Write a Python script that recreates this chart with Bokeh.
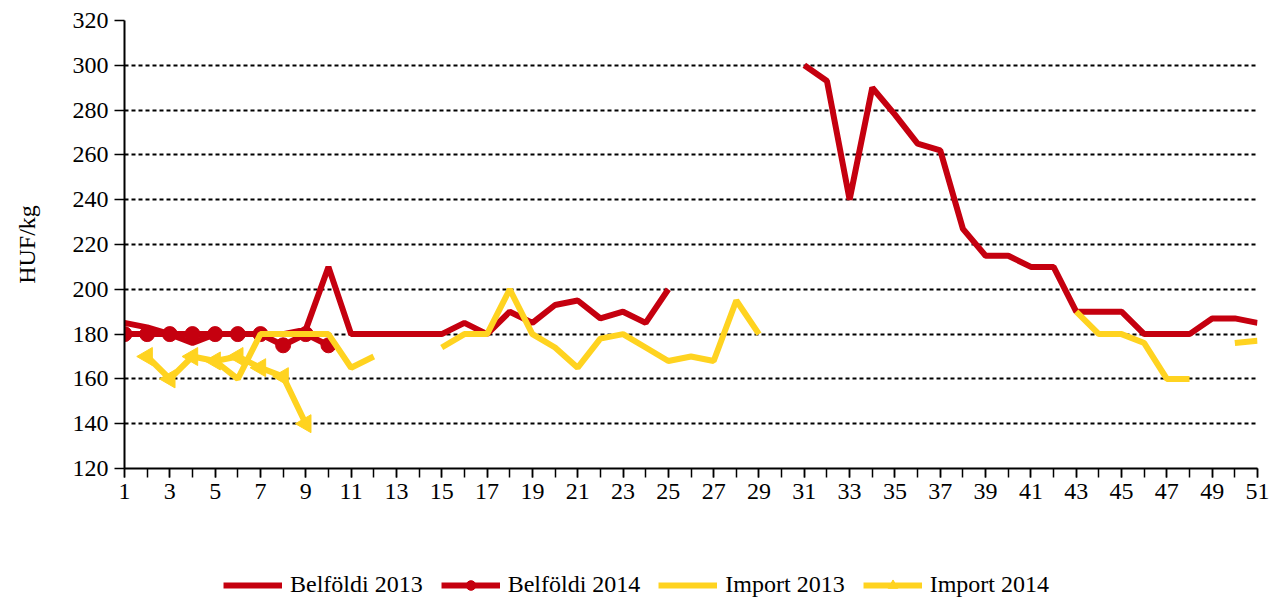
import numpy as np
from bokeh.plotting import figure
from bokeh.layouts import column
from bokeh.models import Range1d, FixedTicker, Legend, LegendItem
from bokeh.embed import file_html
from bokeh.resources import INLINE

nan = float("nan")
weeks = list(range(1, 52))

belfoldi_2013 = [185, 183, 180, 176, 180, 180, 180, 180, 182, 210,
                 180, 180, 180, 180, 180, 185, 180, 190, 185, 193,
                 195, 187, 190, 185, 200, nan, nan, nan, nan, nan,
                 300, 293, 240, 290, 278, 265, 262, 227, 215, 215,
                 210, 210, 190, 190, 190, 180, 180, 180, 187, 187, 185]

belfoldi_2014_weeks = list(range(1, 11))
belfoldi_2014 = [180, 180, 180, 180, 180, 180, 180, 175, 180, 175]

import_2013 = [nan, nan, nan, nan, 168, 160, 180, 180, 180, 180,
               165, 170, nan, nan, 174, 180, 180, 200, 180, 174,
               165, 178, 180, 174, 168, 170, 168, 195, 180, nan,
               nan, nan, nan, nan, nan, nan, nan, nan, nan, nan,
               nan, nan, 190, 180, 180, 176, 160, 160, nan, 176, 177]

import_2014_weeks = list(range(2, 10))
import_2014 = [170, 160, 170, 168, 170, 165, 161, 140]

series_labels = ["Belföldi 2013", "Belföldi 2014", "Import 2013", "Import 2014"]
x_tick_labels = list(range(1, 52, 2))
y_ticks = list(range(120, 321, 20))

RED = "#C5000F"
YELLOW = "#FFD320"
FONT = "Liberation Serif"
FS = "24px"


def add_series(fig):
    r1 = fig.line(weeks, belfoldi_2013, line_color=RED, line_width=6)
    r2 = fig.line(belfoldi_2014_weeks, belfoldi_2014, line_color=RED, line_width=6)
    r2m = fig.scatter(belfoldi_2014_weeks, belfoldi_2014, marker="circle", size=15,
                      fill_color=RED, line_color=RED)
    r3 = fig.line(weeks, import_2013, line_color=YELLOW, line_width=6)
    r4 = fig.line(import_2014_weeks, import_2014, line_color=YELLOW, line_width=6)
    r4m = fig.scatter(import_2014_weeks, import_2014, marker="triangle", size=18,
                      angle=np.pi / 2, fill_color=YELLOW, line_color=YELLOW)
    return [[r1], [r2, r2m], [r3], [r4, r4m]]


p = figure(frame_width=1133, frame_height=448, output_backend="svg",
           toolbar_location=None,
           x_range=Range1d(1, 51), y_range=Range1d(120, 320),
           min_border_left=124, min_border_right=12, min_border_top=20,
           min_border_bottom=45)
p.outline_line_color = None
p.background_fill_color = "white"
add_series(p)

# axes
p.xaxis.ticker = FixedTicker(ticks=x_tick_labels, minor_ticks=weeks)
p.yaxis.ticker = FixedTicker(ticks=y_ticks)
for ax in (p.xaxis[0], p.yaxis[0]):
    ax.axis_line_color = "black"
    ax.axis_line_width = 2
    ax.major_tick_line_color = "black"
    ax.major_tick_line_width = 1.5
    ax.minor_tick_line_color = "black"
    ax.minor_tick_line_width = 1.5
    ax.major_tick_in = 0
    ax.minor_tick_in = 0
    ax.major_label_text_font = FONT
    ax.major_label_text_font_size = FS
    ax.major_label_text_color = "black"
    ax.major_label_standoff = 6
p.xaxis.major_tick_out = 9
p.xaxis.minor_tick_out = 9
p.yaxis.major_tick_out = 10
p.yaxis.minor_tick_line_color = None
p.yaxis.axis_label = "HUF/kg"
p.yaxis.axis_label_text_font = FONT
p.yaxis.axis_label_text_font_size = FS
p.yaxis.axis_label_text_font_style = "normal"
p.yaxis.axis_label_text_color = "black"
p.yaxis.axis_label_standoff = 30

p.xgrid.grid_line_color = None
p.ygrid.grid_line_color = "black"
p.ygrid.grid_line_width = 2
p.ygrid.grid_line_dash = "4 3"

# legend strip below the chart (series drawn outside its ranges, so only the
# legend keys are visible)
pl = figure(width=1160, height=86, output_backend="svg", toolbar_location=None,
            x_range=Range1d(0, 1), y_range=Range1d(0, 1),
            x_axis_location=None, y_axis_location=None,
            min_border_left=124, min_border_right=0, min_border_top=58,
            min_border_bottom=0)
pl.outline_line_color = None
pl.xgrid.grid_line_color = None
pl.ygrid.grid_line_color = None
groups = add_series(pl)

legend = Legend(items=[LegendItem(label=lab, renderers=rs)
                       for lab, rs in zip(series_labels, groups)],
                orientation="horizontal", location="top_center")
legend.label_text_font = FONT
legend.label_text_font_size = FS
legend.label_text_color = "black"
legend.glyph_width = 59
legend.glyph_height = 24
legend.label_standoff = 8
legend.spacing = 18
legend.padding = 0
legend.margin = 0
legend.border_line_color = None
legend.background_fill_alpha = 0
pl.add_layout(legend, "center")

layout = column(p, pl, spacing=0)
open("out.html", "w").write(file_html(layout, INLINE))
